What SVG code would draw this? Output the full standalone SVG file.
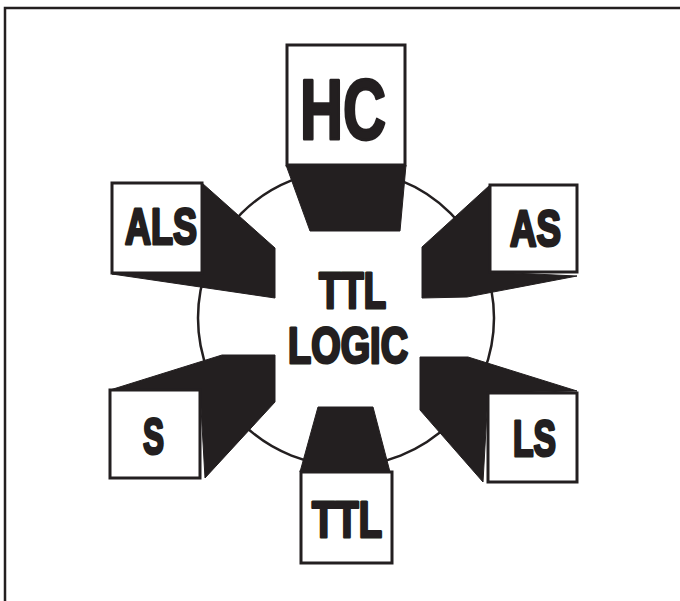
<svg xmlns="http://www.w3.org/2000/svg" width="680" height="601" viewBox="0 0 680 601">
<style>
.frame{fill:none;stroke:#231f20;stroke-width:2.5}
.box{fill:#fff;stroke:#231f20;stroke-width:3}
.ext{fill:#231f20;stroke:#231f20;stroke-width:1;stroke-linejoin:round}
.ring{fill:none;stroke:#231f20;stroke-width:2.5}
.lbl{font-family:"Liberation Sans","DejaVu Sans",Arial,sans-serif;font-weight:bold;fill:#231f20;stroke:#231f20;stroke-width:3;stroke-linejoin:round}
</style>
<rect width="680" height="601" fill="#fff"/>
<path class="frame" d="M5,601 V8 H680"/>
<g id="connectors">
<circle class="ring" cx="346" cy="318" r="148"/>
</g>
<g id="center">
<text class="lbl" x="319" y="308" font-size="50" textLength="67" lengthAdjust="spacingAndGlyphs">TTL</text>
<text class="lbl" x="288" y="363" font-size="50" textLength="120" lengthAdjust="spacingAndGlyphs">LOGIC</text>
</g>
<g id="hc">
<polygon class="ext" points="286,165 406,165 400,231 310,231"/>
<rect class="box" x="287" y="45" width="118" height="120"/>
<text class="lbl" x="300" y="139" font-size="86" stroke-width="4" textLength="86" lengthAdjust="spacingAndGlyphs">HC</text>
</g>
<g id="als">
<polygon class="ext" points="202,183 275,248 275,298 112,274 202,273"/>
<rect class="box" x="112" y="183" width="90" height="90"/>
<text class="lbl" x="125" y="244" font-size="50" textLength="72" lengthAdjust="spacingAndGlyphs">ALS</text>
</g>
<g id="as">
<polygon class="ext" points="490,185 422,247 422,298 467,297 577,276 490,272"/>
<rect class="box" x="490" y="185" width="87" height="87"/>
<text class="lbl" x="510" y="246" font-size="50" textLength="51" lengthAdjust="spacingAndGlyphs">AS</text>
</g>
<g id="s">
<polygon class="ext" points="110,390 222,355 275,355 275,402 205,478 200,390"/>
<rect class="box" x="110" y="390" width="90" height="88"/>
<text class="lbl" x="143" y="454" font-size="50" textLength="21" lengthAdjust="spacingAndGlyphs">S</text>
</g>
<g id="ls">
<polygon class="ext" points="420,357 468,357 577,391 488,393 483,482 420,410"/>
<rect class="box" x="488" y="393" width="89" height="89"/>
<text class="lbl" x="513" y="456" font-size="50" textLength="43" lengthAdjust="spacingAndGlyphs">LS</text>
</g>
<g id="ttl">
<polygon class="ext" points="318,407 373,407 390,472 300,472"/>
<rect class="box" x="301" y="472" width="91" height="91"/>
<text class="lbl" x="312" y="537" font-size="50" textLength="70" lengthAdjust="spacingAndGlyphs">TTL</text>
</g>
</svg>
